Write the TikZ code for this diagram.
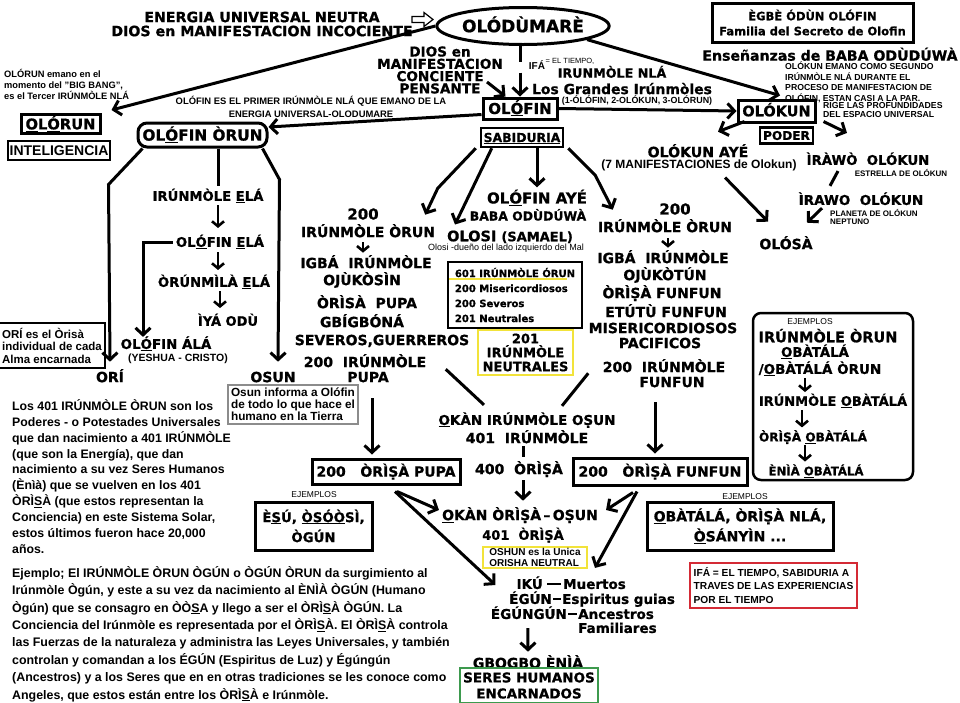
\documentclass[tikz,border=0pt]{standalone}
\usepackage{fontspec}
\setmainfont{Liberation Sans}
\newfontfamily\dv{DejaVu Sans}[BoldFeatures={FakeBold=0.8}]
\usetikzlibrary{arrows.meta,shapes.geometric}

\definecolor{amarillo}{HTML}{F2E33A}
\definecolor{rojo}{HTML}{D42A35}
\definecolor{verde}{HTML}{3D9A4E}
\definecolor{gris}{HTML}{8C8C8C}

\tikzset{
  vl/.style={inner sep=0pt, font=\dv\bfseries\fontsize{#1}{#1}\selectfont, text height={0.73*#1pt}, text depth=0pt},
  al/.style={inner sep=0pt, font=\bfseries\fontsize{#1}{#1}\selectfont, text height={0.72*#1pt}, text depth=0pt},
  verd/.style 2 args={inner sep=0pt, align=center, font=\dv\bfseries\fontsize{#1}{#2}\selectfont},
  ari/.style 2 args={inner sep=0pt, align=left, font=\bfseries\fontsize{#1}{#2}\selectfont},
  caja/.style={draw, line width=3pt},
  flecha/.style={line width=3pt, -{Straight Barb[length=7pt,width=15pt]}},
  flechita/.style={line width=2.6pt, -{Straight Barb[length=5pt,width=12pt]}},
  linea/.style={line width=3pt},
  guion/.style={line width=2.6pt},
}

\begin{document}
\begin{tikzpicture}[x=1pt,y=-1pt]
		\useasboundingbox (0,0) rectangle (960,702);
		\fill[white] (0,0) rectangle (960,702);
		%Cabecera
		\node[verd={14.2}{14}] (energia) at (262,24) {ENERGIA UNIVERSAL NEUTRA\\DIOS en MANIFESTACION INCOCIENTE};
		\draw[line width=1.2pt] (412,16.5)--(424,16.5)--(424,12.5)--(433,19.5)--(424,26.5)--(424,22.5)--(412,22.5)--cycle;
		\node[ellipse, draw, line width=3pt, minimum width=162pt, minimum height=37pt, vl=17] (olodumare) at (523,26) {OLÓDÙMARÈ};
		\node[caja, minimum width=201pt, minimum height=39pt, verd={11.5}{15}] (egbe) at (812.5,22.5) {ÈGBÈ ÓDÙN OLÓFIN\\Familia del Secreto de Olofin};
		\node[vl=14.1] (ensenanzas) at (830,55.5) {Enseñanzas de BABA ODÙDÚWÀ};
		\node[ari={8.7}{10.5}, anchor=west] (olokunnota) at (785,82.5) {OLÓKUN EMANO COMO SEGUNDO\\IRÚNMÒLE NLÁ DURANTE EL\\PROCESO DE MANIFESTACION DE\\OLÓFIN, ESTAN CASI A LA PAR.};
		\node[ari={8.7}{9.5}, anchor=west] (rige) at (823,110) {RIGE LAS PROFUNDIDADES\\DEL ESPACIO UNIVERSAL};
		\node[ari={9.3}{11}, anchor=west] (olorunnota) at (4,84) {OLÓRUN emano en el\\momento del "BIG BANG",\\es el Tercer IRÚNMÒLE NLÁ};
		\node[verd={13.6}{12.3}] (pensante) at (440,70) {DIOS en\\MANIFESTACION\\CONCIENTE\\PENSANTE};
		\node[al=10] (ifa) at (537,66) {IFÁ};
		\node[inner sep=0pt, font=\fontsize{7.5}{7.5}\selectfont] (tiempo) at (570,61) {= EL TIEMPO,};
		\node[vl=12.7] (irunmolenla) at (612,73) {IRUNMÒLE NLÁ};
		\node[vl=13.9] (grandes) at (622,89) {Los Grandes Irúnmòles};
		\node[al=8.9] (lista) at (637,100) {(1-ÓLÓFIN, 2-OLÓKUN, 3-OLÓRUN)};
		\node[ari={9.4}{13}, align=center] (primer) at (311,106.5) {OLÓFIN ES EL PRIMER IRÚNMÒLE NLÁ QUE EMANO DE LA\\ENERGIA UNIVERSAL-OLODUMARE};
		
		%Cajas principales
		\node[caja, minimum width=74pt, minimum height=21pt, vl=15] (olofin) at (520,108.5) {OL\underline{Ó}FIN};
		\node[caja, line width=2.5pt, minimum width=82pt, minimum height=19pt, vl=12.4] (sabiduria) at (522,137.5) {\underline{SABIDURIA}};
		\node[caja, minimum width=77pt, minimum height=22pt, vl=14.5] (olokun) at (776.5,111) {OLÓKUN};
		\node[caja, line width=2.5pt, minimum width=53pt, minimum height=16pt, vl=12.1] (poder) at (786.5,135.5) {PODER};
		\node[caja, minimum width=79pt, minimum height=19pt, vl=14.7] (olorun) at (60.5,124) {\underline{O}L\underline{Ó}RUN};
		\node[caja, line width=2.5pt, minimum width=102pt, minimum height=19pt, al=14] (inteligencia) at (59,150.5) {INTELIGENCIA};
		\node[caja, rounded corners=9pt, minimum width=129pt, minimum height=24pt, vl=15.3] (olofinorun) at (202.5,135) {OL\underline{Ó}FIN ÒRUN};
		
		%Conectores de arriba
		\draw[flecha] (olodumare.west) -- ([shift={(10,-3)}]olorun.north east);
		\draw[linea] (olofin.north |- olodumare.south) -- ++(0,16);
		\draw[flecha] ([yshift=24pt]olofin.north) -- (olofin.north);
		\draw[flecha] ([shift={(47,12)}]pensante.center) -- ([xshift=24pt]olofin.north west);
		\draw[flecha] (olofin.east) -- (olokun.west);
		\draw[flecha] (olodumare.-12) -- ([shift={(-5,13)}]olokunnota.west);
		\draw[flecha] ([yshift=-6pt]olofin.west) -- ([yshift=8pt]olofinorun.east);
		
		%Columna de OLOFIN ORUN
		\node[vl=13.2] (irunela) at (208,196) {IRÚNMÒLE \underline{E}LÁ};
		\node[vl=13.2] (olofinela) at (220,242) {OL\underline{Ó}FIN \underline{E}LÁ};
		\node[vl=13.2] (orunmila) at (214,282) {ÒRÚNMÌLÀ \underline{E}LÁ};
		\node[vl=13] (iyaodu) at (228,321) {ÌYÁ ODÙ};
		\node[vl=13.4] (olofinala) at (166,344) {OL\underline{Ó}FIN ÁLÁ};
		\node[al=10.5] (yeshua) at (178,358) {(YESHUA - CRISTO)};
		\node[vl=14] (ori) at (110,377) {ORÍ};
		\node[vl=14] (osun) at (273,377) {OSUN};
		\node[draw, line width=2.5pt, ari={11.5}{12.5}, inner sep=2pt, minimum width=106pt, minimum height=45pt] (orinota) at (52,345.5) {ORÍ es el Òrisà\\individual de cada\\Alma encarnada};
		\node[draw=gris, line width=2pt, ari={11.8}{12}, inner sep=2pt, minimum width=130pt, minimum height=39pt] (osunnota) at (293,404.5) {Osun informa a Olófin\\de todo lo que hace el\\humano en la Tierra};
		
		\draw[flecha] ([xshift=6pt]olofinorun.south west) -- ++(-34,36) -- ([yshift=10pt]ori.north);
		\draw[linea] ([xshift=15.5pt]olofinorun.south) -- ([shift={(10,-5)}]irunela.north);
		\draw[flecha] ([xshift=-6pt]olofinorun.south east) -- ++(17,31) -- ([shift={(5,-10)}]osun.north);
		\draw[flechita] ([shift={(10,4)}]irunela.south) -- ([shift={(-2,-9)}]olofinela.north);
		\draw[flechita] ([shift={(-2,5)}]olofinela.south) -- ([shift={(4,-7)}]orunmila.north);
		\draw[flechita] ([shift={(6,4)}]orunmila.south) -- ([shift={(-8,-8)}]iyaodu.north);
		\draw[flecha] ([xshift=-3pt]olofinela.west) -| ([shift={(-23,-2)}]olofinala.north);
		
		%Columna izquierda (PUPA)
		\node[vl=15] (n200a) at (363,214) {200};
		\node[vl=14] (orunizq) at (368,232) {IRÚNMÒLE ÒRUN};
		\node[vl=14] (igbaizq) at (366,263) {IGBÁ~~IRÚNMÒLE};
		\node[vl=14] (ojukosin) at (362,280) {OJÙKÒSÌN};
		\node[vl=14] (orisapupa) at (367,303) {ÒRÌSÀ~~PUPA};
		\node[vl=14] (gbigbona) at (362,322) {GBÍGBÓNÁ};
		\node[vl=14] (severos) at (382,340) {SEVEROS,GUERREROS};
		\node[vl=14] (irunpupa) at (365,362) {200~~IRÚNMÒLE};
		\node[vl=14] (pupa) at (368,377) {PUPA};
		\draw[flechita] ([shift={(-5,5)}]orunizq.south) -- ([shift={(-3,-5)}]igbaizq.north);
		
		%Centro
		\node[vl=15] (olofinaye) at (537,198) {OL\underline{Ó}FIN AYÉ};
		\node[vl=12.4] (baba) at (528,216) {BABA ODÙDÚWÀ};
		\node[vl=14.5] (olosi) at (510,236) {OLOSI {\fontsize{13}{13}\selectfont(SAMAEL)}};
		\node[inner sep=0pt, font=\fontsize{9}{9}\selectfont] (olosinota) at (506,248) {Olosi -dueño del lado izquierdo del Mal};
		\node[draw, line width=2pt, verd={10}{15}, align=left, minimum width=134pt, minimum height=66pt] (caja601) at (515,295) {601 IRÚNMÒLE ÓRUN\\200 Misericordiosos\\200 Severos\\201 Neutrales};
		\draw[amarillo, line width=1.5pt] ([shift={(2,-16)}]caja601.west) -- ++(118,0);
		\node[draw=amarillo, line width=2.5pt, verd={13}{14}, minimum width=95pt, minimum height=45pt] (neutrales) at (525.5,352.5) {201\\IRÚNMÒLE\\NEUTRALES};
		
		\draw[flecha] ([xshift=-4pt]sabiduria.south west) -- ++(-38,40) -- ([shift={(-10,-12)}]orunizq.north east);
		\draw[flecha] ([xshift=12pt]sabiduria.south west) -- ([shift={(-55,-6)}]olosi.north);
		\draw[flecha] (sabiduria.south -| olofinaye.north) -- ([yshift=5pt]olofinaye.north);
		
		%Columna derecha (FUNFUN)
		\node[vl=15] (n200b) at (675,209) {200};
		\node[vl=14] (orunder) at (665,227) {IRÚNMÒLE ÒRUN};
		\node[vl=14] (igbader) at (663,258) {IGBÁ~~IRÚNMÒLE};
		\node[vl=14] (ojukotun) at (665,275) {OJÙKÒTÚN};
		\node[vl=14] (orisafun) at (662,293) {ÒRÌṢÀ FUNFUN};
		\node[vl=14] (etutu) at (666,312) {ETÚTÙ FUNFUN};
		\node[vl=14] (miseri) at (663,328) {MISERICORDIOSOS};
		\node[vl=14] (pacificos) at (660,343) {PACIFICOS};
		\node[vl=14] (irunfun) at (664,367) {200~~IRÚNMÒLE};
		\node[vl=14] (funfun) at (672,382) {FUNFUN};
		\draw[flechita] ([shift={(3,6)}]orunder.south) -- ([shift={(5,-5)}]igbader.north);
		\draw[flecha] ([xshift=4pt]sabiduria.south east) -- ++(27,27) -- ([shift={(15,-12)}]orunder.north west);
		
		%OLOKUN
		\node[vl=14.1] (olokunaye) at (698,152) {OLÓKUN AYÉ};
		\node[al=12] (manif) at (699,164) {(7 MANIFESTACIONES de Olokun)};
		\node[vl=13.3] (irawo) at (868,160) {ÌRÀWÒ~~OLÓKUN};
		\node[al=8] (estrella) at (901,174) {ESTRELLA DE OLÓKUN};
		\node[vl=13.5] (irawob) at (861,200) {ÌRAWO~~OLÓKUN};
		\node[ari={8}{8.5}, anchor=west] (planeta) at (830,217) {PLANETA DE OLÓKUN\\NEPTUNO};
		\node[vl=14] (olosa) at (786,244) {OLÓSÀ};
		\draw[flecha] ([shift={(8,-2)}]olokun.south west) -- ([shift={(20,-15)}]olokunaye.north);
		\draw[flecha] ([shift={(7,-2)}]olokun.south east) -- ([shift={(-21,-22)}]irawo.north);
		\draw[flecha] ([shift={(26,9)}]manif.south) -- ([shift={(-18,-17)}]olosa.north);
		\draw[linea] ([shift={(-30,6)}]irawo.south) -- ([shift={(-31,-9)}]irawob.north);
		\draw[flecha] ([shift={(-39,3)}]irawob.south) -- ([shift={(21,-16)}]olosa.north);
		
		%Ejemplos OBATALA
		\node[draw, line width=2.5pt, rounded corners=8pt, minimum width=160pt, minimum height=167pt] (ejemplosbox) at (833,396.5) {};
		\node[al=8.5, font=\fontsize{8.5}{8.5}\selectfont] (ejobatala) at (810,321) {EJEMPLOS};
		\node[vl=14.5] (irunorun2) at (828,337) {IRÚNMÒLE ÒRUN};
		\node[vl=13.3] (obatala1) at (815,352) {\underline{O}BÀTÁLÁ};
		\node[vl=13.5] (obatala2) at (820,369) {/\underline{O}BÀTÁLÁ ÒRUN};
		\node[vl=13] (irunobatala) at (833,401) {IRÚNMÒLE \underline{O}BÀTÁLÁ};
		\node[vl=12.1] (orisaobatala) at (813,437) {ÒRÌṢÀ \underline{O}BÀTÁLÁ};
		\node[vl=11.7] (eniaobatala) at (816,471) {ÈNÌÀ \underline{O}BÀTÁLÁ};
		\draw[flechita] ([shift={(-15,4)}]obatala2.south) -- ([shift={(-28,-4)}]irunobatala.north);
		\draw[flechita] ([shift={(-31,4)}]irunobatala.south) -- ([shift={(-11,-5)}]orisaobatala.north);
		\draw[flechita] ([shift={(-8,3)}]orisaobatala.south) -- ([shift={(-11,-5)}]eniaobatala.north);
		
		%Parte baja
		\node[vl=13.5] (okanirun) at (527,420) {\underline{O}KÀN IRÚNMÒLE OṢUN};
		\node[vl=14] (irun401) at (527,438) {401~~IRÚNMÒLE};
		\node[vl=14] (orisa400) at (519,469) {400~~ÒRÌṢÀ};
		\node[vl=14] (okanorisa) at (520,515) {\underline{O}KÀN ÒRÌṢÀ\,–\,OṢUN};
		\node[vl=13] (orisa401) at (523,535) {401~~ÒRÌṢÀ};
		\node[caja, minimum width=148pt, minimum height=25pt, vl=14] (pupabox) at (386,471.5) {200~~~ÒRÌṢÀ PUPA};
		\node[caja, minimum width=174pt, minimum height=27pt, vl=14] (funbox) at (660,471.5) {200~~~ÒRÌṢÀ FUNFUN};
		\node[al=8.5, font=\fontsize{8.5}{8.5}\selectfont] (ejizq) at (314,494) {EJEMPLOS};
		\node[caja, verd={13.3}{20}, minimum width=117pt, minimum height=48pt] (esubox) at (313.5,526) {È\underline{S}Ú, \underline{ÒSÓÒ}SÌ,\\ÒGÚN};
		\node[al=8.5, font=\fontsize{8.5}{8.5}\selectfont] (ejder) at (745,496) {EJEMPLOS};
		\node[caja, verd={14}{20}, minimum width=186pt, minimum height=48pt] (obatalabox) at (740,526) {\underline{O}BÀTÁLÁ, ÒRÌṢÀ NLÁ,\\\underline{Ò}SÁNYÌN ...};
		\node[draw=rojo, line width=2pt, ari={10.2}{13.5}, inner sep=2pt, minimum width=167pt, minimum height=45pt] (ifanota) at (773.5,585.5) {IFÁ = EL TIEMPO, SABIDURIA A\\TRAVES DE LAS EXPERIENCIAS\\POR EL TIEMPO};
		\node[draw=amarillo, line width=2pt, ari={10}{10.5}, inner sep=2pt, minimum width=104pt, minimum height=21pt] (oshun) at (535,557.5) {OSHUN es la Unica\\ORISHA NEUTRAL};
		
		%IKU, EGUN, EGUNGUN
		\node[vl=13.5, anchor=east] (iku) at (543,584) {IKÚ};
		\node[vl=13.5, anchor=west] (muertos) at (563,584) {Muertos};
		\node[vl=13.5, anchor=east] (egun) at (552,599) {ÉGÚN};
		\node[vl=13.5, anchor=west] (espiritus) at (562,599) {Espiritus guias};
		\node[vl=13.5, anchor=east] (egungun) at (567,614) {ÉGÚNGÚN};
		\node[vl=13.5, anchor=west] (ancestros) at (578,614) {Ancestros};
		\node[vl=13.5, anchor=west] (familiares) at (578,628) {Familiares};
		\draw[guion] ([xshift=4pt]iku.east) -- ([xshift=-2pt]muertos.west);
		\draw[guion] ([xshift=1pt]egun.east) -- ([xshift=-1pt]espiritus.west);
		\draw[guion] ([xshift=1pt]egungun.east) -- ([xshift=-1pt]ancestros.west);
		\node[vl=14] (gbogbo) at (528,663) {GBOGBO ÈNÌÀ};
		\node[draw=verde, line width=2pt, verd={13.5}{16}, minimum width=138pt, minimum height=35pt] (seres) at (529,685.5) {SERES HUMANOS\\ENCARNADOS};
		\draw[flecha] ([shift={(-1,9)}]egungun.south) -- ([yshift=6pt]gbogbo.north);
		
		\draw[flecha] ([shift={(4,16)}]pupa.south) -- ([shift={(-14,-3)}]pupabox.north);
		\draw[flecha] ([shift={(-17,15)}]funfun.south) -- ([shift={(-5,-3)}]funbox.north);
		\draw[linea] ([shift={(-31,-7)}]neutrales.south west) -- ([shift={(-43,-10)}]okanirun.north);
		\draw[linea] ([shift={(14,-3)}]neutrales.south east) -- ([shift={(35,-9)}]okanirun.north);
		\draw[linea] ([shift={(-4,3)}]irun401.south) -- ++(0,11);
		\draw[flecha] ([shift={(4,6)}]orisa400.south) -- ([shift={(3,-9)}]okanorisa.north);
		\draw[flecha] ([shift={(11,6)}]pupabox.south) -- ([shift={(-3,-5)}]okanorisa.west);
		\draw[flecha] ([shift={(9,6)}]pupabox.south) -- ([shift={(-21,1)}]iku.west);
		\draw[flecha] ([shift={(-27,6)}]funbox.south) -- ([shift={(8,-5)}]okanorisa.east);
		\draw[flecha] ([shift={(-23,5)}]funbox.south) -- ([shift={(32,-11)}]muertos.north west);
		
		%Textos largos
		\node[ari={12.3}{15.9}, anchor=west] (losparrafo) at (12,476.5) {Los 401 IRÚNMÒLE ÒRUN son los\\Poderes - o Potestades Universales\\que dan nacimiento a 401 IRÚNMÒLE\\(que son la Energía), que dan\\nacimiento a su vez Seres Humanos\\(Ènìà) que se vuelven en los 401\\ÒRÌ\underline{S}À (que estos representan la\\Conciencia) en este Sistema Solar,\\estos últimos fueron hace 20,000\\años.};
		\node[ari={12.4}{17.4}, anchor=west] (ejemploparrafo) at (12,634) {Ejemplo; El IRÚNMÒLE ÒRUN ÒGÚN o ÒGÚN ÒRUN da surgimiento al\\Irúnmòle Ògún, y este a su vez da nacimiento al ÈNÌÀ ÒGÚN (Humano\\Ògún) que se consagro en ÒÒ\underline{S}A y llego a ser el ÒRÌ\underline{S}À ÒGÚN. La\\Conciencia del Irúnmòle es representada por el ÒRÌ\underline{S}À. El ÒRÌ\underline{S}À controla\\las Fuerzas de la naturaleza y administra las Leyes Universales, y también\\controlan y comandan a los ÉGÚN (Espiritus de Luz) y Égúngún\\(Ancestros) y a los Seres que en en otras tradiciones se les conoce como\\Angeles, que estos están entre los ÒRÌ\underline{S}À e Irúnmòle.};
	\end{tikzpicture}
\end{document}
